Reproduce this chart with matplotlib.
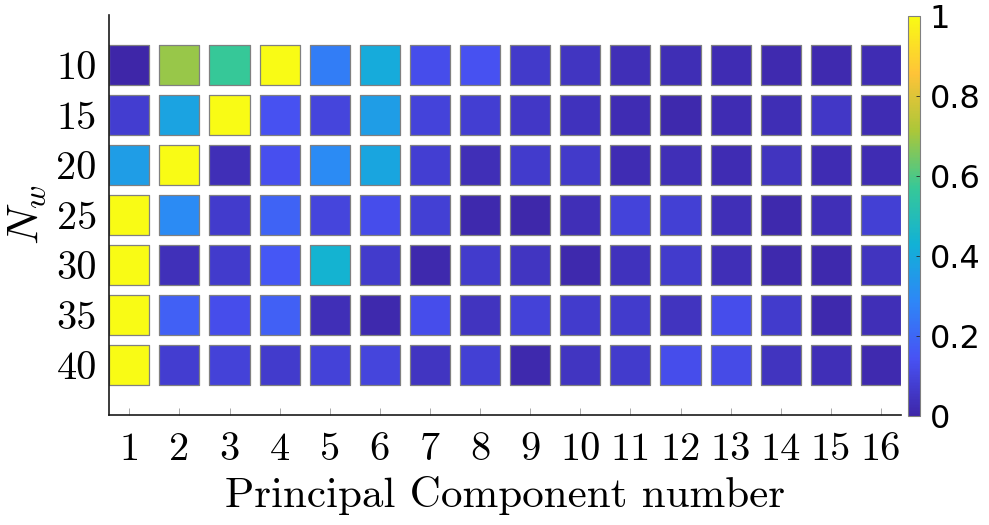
import numpy as np
import matplotlib
matplotlib.use('Agg')
import matplotlib.pyplot as plt
from matplotlib.colors import LinearSegmentedColormap
from matplotlib.patches import Rectangle
from matplotlib.collections import PatchCollection

plt.rcParams['mathtext.fontset'] = 'cm'

# ---- data: normalized weight per window size (rows) and PC number (cols)
n_w = [10, 15, 20, 25, 30, 35, 40]
pc_num = list(range(1, 17))
weights = [
    [0.00, 0.69, 0.57, 1.00, 0.26, 0.41, 0.125, 0.14, 0.065, 0.05, 0.03, 0.025, 0.02, 0.015, 0.015, 0.02],
    [0.075, 0.38, 1.00, 0.14, 0.10, 0.36, 0.095, 0.08, 0.055, 0.04, 0.02, 0.01, 0.02, 0.025, 0.055, 0.02],
    [0.36, 1.00, 0.03, 0.135, 0.30, 0.39, 0.08, 0.03, 0.07, 0.065, 0.02, 0.03, 0.02, 0.045, 0.02, 0.02],
    [1.00, 0.30, 0.07, 0.19, 0.10, 0.125, 0.085, 0.01, 0.005, 0.03, 0.095, 0.085, 0.03, 0.01, 0.03, 0.085],
    [1.00, 0.035, 0.07, 0.16, 0.44, 0.07, 0.01, 0.07, 0.05, 0.01, 0.04, 0.07, 0.03, 0.01, 0.01, 0.045],
    [1.00, 0.18, 0.125, 0.18, 0.03, 0.01, 0.125, 0.045, 0.09, 0.07, 0.07, 0.045, 0.125, 0.07, 0.01, 0.03],
    [1.00, 0.075, 0.09, 0.07, 0.09, 0.10, 0.05, 0.085, 0.01, 0.05, 0.07, 0.125, 0.12, 0.045, 0.03, 0.015],
]

# parula-like colormap (MATLAB parula(8) anchors)
parula_pts = [
    (0.2422, 0.1504, 0.6603), (0.2810, 0.3228, 0.9579),
    (0.1786, 0.5289, 0.9682), (0.0689, 0.6948, 0.8394),
    (0.2161, 0.7843, 0.5923), (0.6720, 0.7793, 0.2227),
    (0.9970, 0.7659, 0.2199), (0.9769, 0.9839, 0.0805),
]
parula = LinearSegmentedColormap.from_list('parula', parula_pts, N=256)

fig = plt.figure(figsize=(9.89, 5.25), dpi=100)
ax = fig.add_axes([0.1105, 0.2095, 0.8005, 0.762])

side = 0.8
rects, vals = [], []
for r, row in enumerate(weights):
    for c, v in enumerate(row):
        rects.append(Rectangle((pc_num[c] - side / 2, r + 1 - side / 2), side, side))
        vals.append(v)
pc = PatchCollection(rects, cmap=parula, edgecolor='#808080', linewidth=0.9)
pc.set_array(np.array(vals))
pc.set_clim(0, 1)
ax.add_collection(pc)

ax.set_xlim(0.6, 16.4)
ax.set_ylim(8, 0)
ax.set_xticks(pc_num)
ax.set_xticklabels([str(p) for p in pc_num], fontfamily='cmr10', fontsize=29)
ax.set_yticks(range(1, len(n_w) + 1))
ax.set_yticklabels([str(n) for n in n_w], fontfamily='cmr10', fontsize=29)
ax.tick_params(axis='x', direction='in', length=5, width=0.6, color='#9a9a9a', pad=12)
ax.tick_params(axis='y', length=0, pad=9)
for s in ['top', 'right']:
    ax.spines[s].set_visible(False)
for s in ['left', 'bottom']:
    ax.spines[s].set_color('#1a1a1a')
    ax.spines[s].set_linewidth(1.2)

ax.set_xlabel('Principal Component number', fontfamily='cmr10', fontsize=31, labelpad=6)
ax.set_ylabel(r'$N_w$', fontsize=33, labelpad=5)

cax = fig.add_axes([0.9178, 0.2076, 0.0124, 0.762])
cb = fig.colorbar(pc, cax=cax, ticks=[0, 0.2, 0.4, 0.6, 0.8, 1])
cb.ax.set_yticklabels(['0', '0.2', '0.4', '0.6', '0.8', '1'])
cb.ax.tick_params(direction='in', length=3, width=0.6, color='#262626', labelsize=23, pad=7)
cb.outline.set_edgecolor('#808080')
cb.outline.set_linewidth(0.8)

fig.savefig('out.png', dpi=100)
